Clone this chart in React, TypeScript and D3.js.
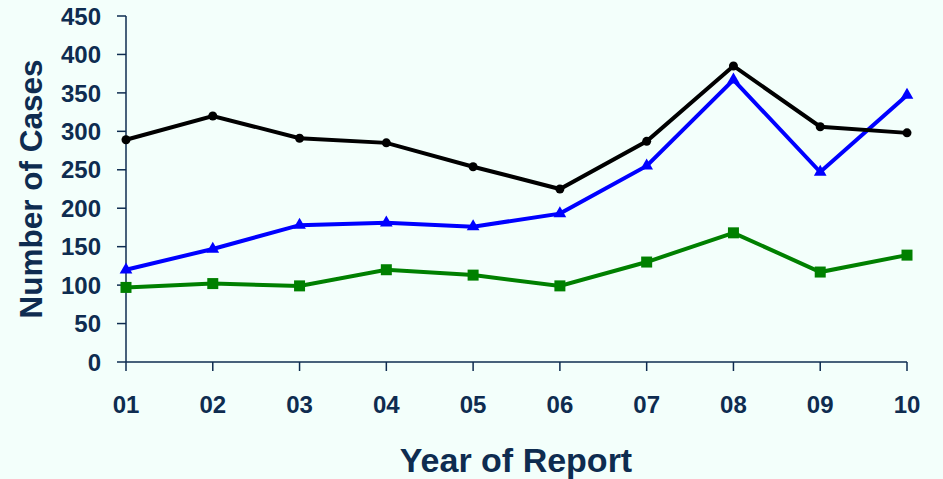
import React from "react";
import * as d3 from "d3";

const years = ["01", "02", "03", "04", "05", "06", "07", "08", "09", "10"];
const blackSeries = [289, 320, 291, 285, 254, 225, 287, 385, 306, 298];
const blueSeries = [120, 147, 178, 181, 176, 193, 255, 367, 247, 347];
const greenSeries = [97, 102, 99, 120, 113, 99, 130, 168, 117, 139];
const yTicks = [0, 50, 100, 150, 200, 250, 300, 350, 400, 450];

const W = 943;
const H = 479;
const TEXT = "#0e2c50";
const FONT = "'Liberation Sans', Arial, sans-serif";

export default function App() {
  const x = d3.scalePoint<string>().domain(years).range([126, 907]);
  const y = d3.scaleLinear().domain([0, 450]).range([362, 16]);
  const line = d3
    .line<number>()
    .x((_, i) => x(years[i]) as number)
    .y((d) => y(d));
  const tri = d3.symbol().type(d3.symbolTriangle).size(70)();

  return (
    <svg
      width={W}
      height={H}
      style={{ position: "absolute", left: 0, top: 0, background: "#f3fffb" }}
      fontFamily={FONT}
    >
      <rect x={0} y={0} width={W} height={H} fill="#f3fffb" />
      {/* Y axis */}
      <line x1={126} x2={126} y1={y(450)} y2={y(0)} stroke={TEXT} strokeWidth={1.5} />
      {yTicks.map((t) => (
        <g key={t}>
          <line x1={117} x2={126} y1={y(t)} y2={y(t)} stroke={TEXT} strokeWidth={1.5} />
          <text
            x={101}
            y={y(t)}
            dy="0.36em"
            textAnchor="end"
            fontSize={24}
            fontWeight="bold"
            fill={TEXT}
          >
            {t}
          </text>
        </g>
      ))}
      {/* X axis */}
      <line x1={126} x2={907} y1={y(0)} y2={y(0)} stroke={TEXT} strokeWidth={1.5} />
      {years.map((yr) => (
        <g key={yr}>
          <line
            x1={x(yr) as number}
            x2={x(yr) as number}
            y1={y(0)}
            y2={y(0) + 9}
            stroke={TEXT}
            strokeWidth={1.5}
          />
          <text
            x={x(yr) as number}
            y={413}
            textAnchor="middle"
            fontSize={24}
            fontWeight="bold"
            fill={TEXT}
          >
            {yr}
          </text>
        </g>
      ))}
      <text
        x={516}
        y={472}
        textAnchor="middle"
        fontSize={34}
        fontWeight="bold"
        fill={TEXT}
      >
        Year of Report
      </text>
      <text
        transform={`translate(42,${189}) rotate(-90)`}
        textAnchor="middle"
        fontSize={31.5}
        fontWeight="bold"
        fill={TEXT}
      >
        Number of Cases
      </text>

      {/* Green series */}
      <path d={line(greenSeries) || ""} fill="none" stroke="#008000" strokeWidth={4} />
      {greenSeries.map((v, i) => (
        <rect
          key={"g" + i}
          x={(x(years[i]) as number) - 5.5}
          y={y(v) - 5.5}
          width={11}
          height={11}
          fill="#008000"
        />
      ))}
      {/* Blue series */}
      <path d={line(blueSeries) || ""} fill="none" stroke="#0000ff" strokeWidth={4} />
      {blueSeries.map((v, i) => (
        <path
          key={"b" + i}
          d={tri || ""}
          transform={`translate(${x(years[i])},${y(v)})`}
          fill="#0000ff"
        />
      ))}
      {/* Black series */}
      <path d={line(blackSeries) || ""} fill="none" stroke="#000000" strokeWidth={4} />
      {blackSeries.map((v, i) => (
        <circle key={"k" + i} cx={x(years[i]) as number} cy={y(v)} r={4.5} fill="#000000" />
      ))}
    </svg>
  );
}
